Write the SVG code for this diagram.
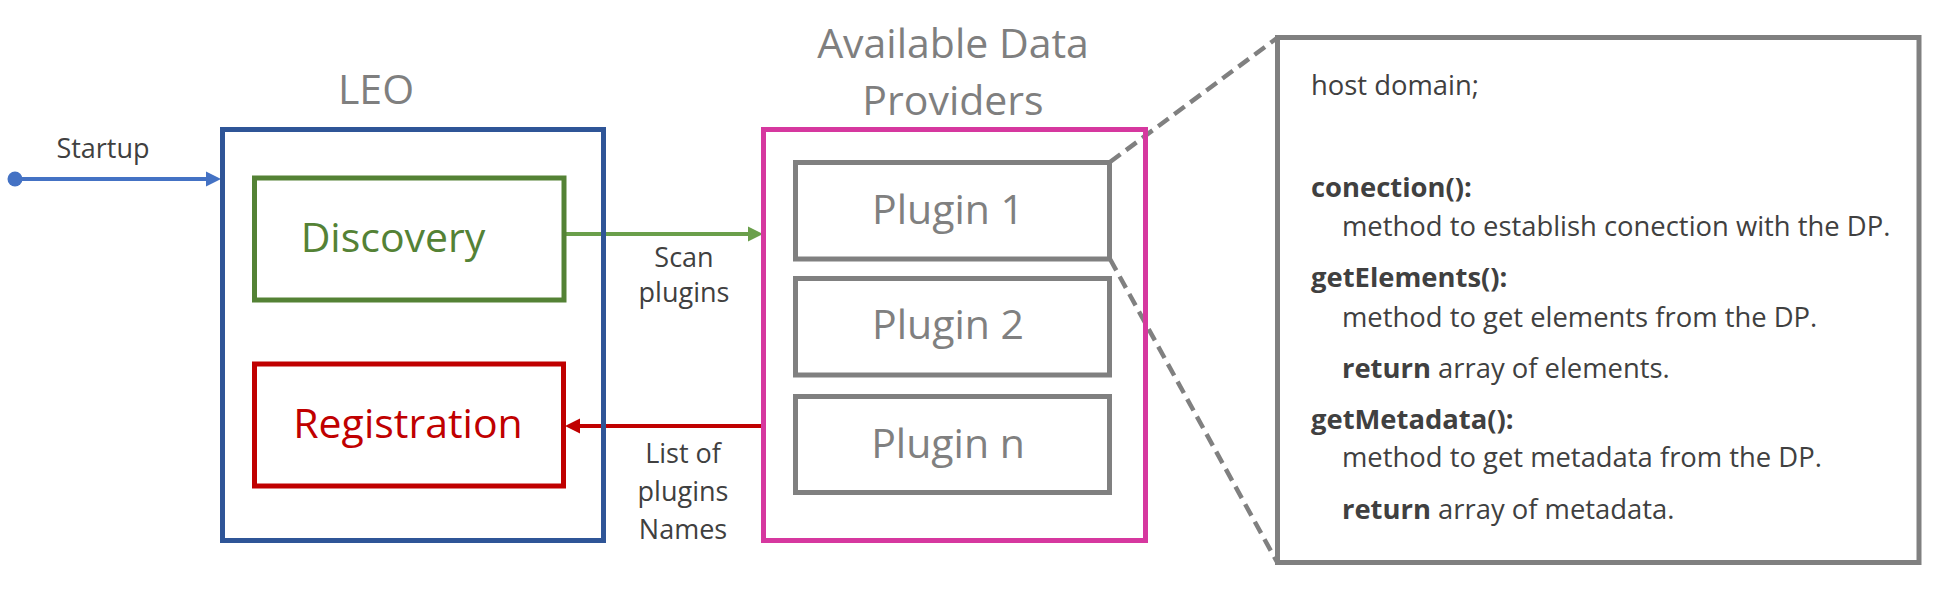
<svg xmlns="http://www.w3.org/2000/svg" width="1934" height="593" viewBox="0 0 1934 593">
<style>
text{font-family:"Open Sans","Noto Sans",sans-serif}
.box{fill:none;stroke-width:5}
.gray{stroke:#808080}
.title{fill:#7F7F7F;font-size:41px;text-anchor:middle}
.lbl{fill:#404040;font-size:27px;text-anchor:middle}
.big{font-size:41px;text-anchor:middle}
.code{fill:#404040;font-size:27.4px}
.b{font-weight:bold}
.dash{stroke:#808080;stroke-width:4.5;stroke-dasharray:13 7;fill:none}
</style>
<rect width="1934" height="593" fill="#ffffff"/>
<g id="connectors">
<circle cx="15" cy="179" r="7.5" fill="#4472C4"/>
<line x1="15" y1="179" x2="208" y2="179" stroke="#4472C4" stroke-width="4"/>
<path d="M206,171.5 L221,179 L206,186.5 z" fill="#4472C4"/>
<text class="lbl" x="103" y="158">Startup</text>
<line x1="564" y1="234" x2="750" y2="234" stroke="#6A9F4B" stroke-width="4"/>
<path d="M748,226.5 L763,234 L748,241.5 z" fill="#6A9F4B"/>
<text class="lbl" x="684" y="267">Scan</text>
<text class="lbl" x="684" y="302">plugins</text>
<line x1="763" y1="426" x2="577" y2="426" stroke="#C00000" stroke-width="4"/>
<path d="M580,418.5 L565,426 L580,433.5 z" fill="#C00000"/>
<text class="lbl" x="683" y="463">List of</text>
<text class="lbl" x="683" y="501">plugins</text>
<text class="lbl" x="683" y="539">Names</text>
<line class="dash" x1="1110" y1="162" x2="1277" y2="38"/>
<line class="dash" x1="1110" y1="259" x2="1277" y2="562"/>
</g>
<g id="leo">
<text class="title" x="376" y="104" font-size="39">LEO</text>
<rect class="box" x="222.5" y="129.5" width="381" height="411" stroke="#2F5597"/>
</g>
<g id="discovery">
<rect class="box" x="254.5" y="178" width="309.5" height="122" stroke="#548235"/>
<text class="big" x="393" y="252" fill="#548235">Discovery</text>
</g>
<g id="registration">
<rect class="box" x="254.5" y="364" width="309" height="122" stroke="#C00000"/>
<text class="big" x="408" y="438" fill="#C00000">Registration</text>
</g>
<g id="providers">
<text class="title" x="953" y="58">Available Data</text>
<text class="title" x="953" y="115">Providers</text>
<rect class="box" x="763.5" y="129.5" width="382" height="411" stroke="#D6389F"/>
</g>
<g id="plugin1">
<rect class="box gray" x="795.5" y="162.5" width="314" height="96.5"/>
<text class="big" x="948" y="224" fill="#808080">Plugin 1</text>
</g>
<g id="plugin2">
<rect class="box gray" x="795.5" y="278.5" width="314" height="96.5"/>
<text class="big" x="948" y="339" fill="#808080">Plugin 2</text>
</g>
<g id="pluginn">
<rect class="box gray" x="795.5" y="396.5" width="314" height="96"/>
<text class="big" x="948" y="458" fill="#808080">Plugin n</text>
</g>
<g id="interface">
<rect class="box gray" x="1277.5" y="37.5" width="641.5" height="525"/>
<text class="code" x="1311" y="95">host domain;</text>
<text class="code b" x="1311" y="197">conection():</text>
<text class="code" x="1342" y="236">method to establish conection with the DP.</text>
<text class="code b" x="1311" y="287">getElements():</text>
<text class="code" x="1342" y="327">method to get elements from the DP.</text>
<text class="code" x="1342" y="378"><tspan class="b">return</tspan> array of elements.</text>
<text class="code b" x="1311" y="429">getMetadata():</text>
<text class="code" x="1342" y="467">method to get metadata from the DP.</text>
<text class="code" x="1342" y="519"><tspan class="b">return</tspan> array of metadata.</text>
</g>
</svg>
